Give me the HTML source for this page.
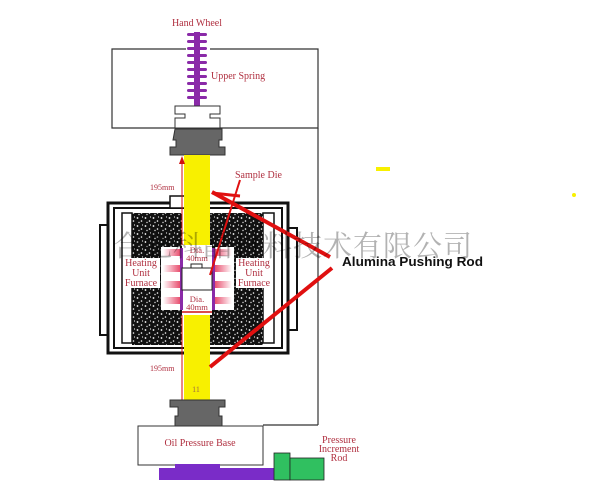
<!DOCTYPE html>
<html><head><meta charset="utf-8"><style>body{margin:0;background:#fff}svg{display:block}</style></head><body>
<svg width="600" height="500" viewBox="0 0 600 500" xmlns="http://www.w3.org/2000/svg" font-family="Liberation Serif, serif">
<defs>
<pattern id="sp" width="8" height="8" patternUnits="userSpaceOnUse">
<rect width="8" height="8" fill="#111"/>
<circle cx="1.5" cy="2" r="0.9" fill="#fff"/><circle cx="5.5" cy="5" r="0.8" fill="#fff"/><circle cx="3" cy="6.5" r="0.7" fill="#ddd"/><circle cx="6.5" cy="1" r="0.6" fill="#eee"/>
</pattern>
<linearGradient id="hl" x1="0" x2="1"><stop offset="0" stop-color="#fff"/><stop offset="1" stop-color="#e85070"/></linearGradient>
<linearGradient id="hr" x1="1" x2="0"><stop offset="0" stop-color="#fff"/><stop offset="1" stop-color="#e85070"/></linearGradient>
</defs>
<path d="M186 49 H112 V128 H318 V49 H210" fill="none" stroke="#333" stroke-width="1.2"/>
<line x1="318" y1="128" x2="318" y2="425" stroke="#333" stroke-width="1.2"/>
<line x1="318" y1="425" x2="263" y2="425" stroke="#333" stroke-width="1.2"/>
<text x="197" y="26" font-size="10" fill="#b03040" text-anchor="middle">Hand Wheel</text>
<text x="211" y="79" font-size="10" fill="#b03040">Upper Spring</text>
<rect x="194" y="32" width="6" height="74" fill="#8a2aa8"/>
<g fill="#8a2aa8">
<rect x="187" y="33" width="20" height="3" rx="1.5"/><rect x="187" y="40" width="20" height="3" rx="1.5"/><rect x="187" y="47" width="20" height="3" rx="1.5"/><rect x="187" y="54" width="20" height="3" rx="1.5"/><rect x="187" y="61" width="20" height="3" rx="1.5"/><rect x="187" y="68" width="20" height="3" rx="1.5"/><rect x="187" y="75" width="20" height="3" rx="1.5"/><rect x="187" y="82" width="20" height="3" rx="1.5"/><rect x="187" y="89" width="20" height="3" rx="1.5"/><rect x="187" y="96" width="20" height="3" rx="1.5"/>
</g>
<path d="M175 106 H220 V114 H210 V118 H220 V128 H175 V118 H185 V114 H175 Z" fill="#fff" stroke="#333" stroke-width="1"/>
<path d="M175 129 H222 V140 H219 V147 H225 V155 H170 V147 H176 V140 H173 Z" fill="#666" stroke="#333" stroke-width="1"/>
<rect x="100" y="225" width="9" height="110" fill="#fff" stroke="#111" stroke-width="2"/>
<rect x="287" y="228" width="10" height="102" fill="#fff" stroke="#111" stroke-width="2"/>
<rect x="108" y="203" width="180" height="150" fill="#fff" stroke="#111" stroke-width="3"/>
<rect x="114" y="208" width="168" height="140" fill="none" stroke="#111" stroke-width="2"/>
<rect x="122" y="213" width="10" height="130" fill="#fff" stroke="#111" stroke-width="1.5"/>
<rect x="263" y="213" width="11" height="130" fill="#fff" stroke="#111" stroke-width="1.5"/>
<rect x="132" y="213" width="50" height="132" fill="url(#sp)"/>
<rect x="210" y="213" width="53" height="132" fill="url(#sp)"/>
<rect x="170" y="196" width="15" height="12" fill="#fff" stroke="#111" stroke-width="1.5"/>
<rect x="161" y="247" width="19" height="63" fill="#fff"/>
<rect x="215" y="247" width="19" height="63" fill="#fff"/>
<g>
<rect x="163" y="249" width="17" height="7" fill="url(#hl)"/><rect x="163" y="265" width="17" height="7" fill="url(#hl)"/><rect x="163" y="281" width="17" height="7" fill="url(#hl)"/><rect x="163" y="297" width="17" height="7" fill="url(#hl)"/>
<rect x="215" y="249" width="17" height="7" fill="url(#hr)"/><rect x="215" y="265" width="17" height="7" fill="url(#hr)"/><rect x="215" y="281" width="17" height="7" fill="url(#hr)"/><rect x="215" y="297" width="17" height="7" fill="url(#hr)"/>
</g>
<rect x="180" y="248" width="3" height="62" fill="#8a2aa8"/>
<rect x="212" y="248" width="3" height="62" fill="#8a2aa8"/>
<rect x="183" y="245" width="29" height="70" fill="#fff"/>
<g font-size="10" fill="#b03040" text-anchor="middle">
<rect x="123" y="258" width="37" height="30" fill="#fff"/>
<text x="141" y="266">Heating</text><text x="141" y="276">Unit</text><text x="141" y="286">Furnace</text>
<rect x="236" y="258" width="37" height="30" fill="#fff"/>
<text x="254" y="266">Heating</text><text x="254" y="276">Unit</text><text x="254" y="286">Furnace</text>
<text x="197" y="253" font-size="8.5">Dia.</text><text x="197" y="261" font-size="8.5">40mm</text>
<text x="197" y="302" font-size="8.5">Dia.</text><text x="197" y="310" font-size="8.5">40mm</text>
</g>
<rect x="182" y="268" width="30" height="22" fill="#fff" stroke="#222" stroke-width="1"/>
<rect x="191" y="264" width="11" height="4" fill="#fff" stroke="#222" stroke-width="1"/>
<line x1="182" y1="312" x2="212" y2="312" stroke="#d01010" stroke-width="1.5"/>
<rect x="184" y="155" width="26" height="90" fill="#f8f000"/>
<rect x="184" y="315" width="26" height="86" fill="#f8f000"/>
<line x1="182" y1="158" x2="182" y2="245" stroke="#d01010" stroke-width="1"/>
<path d="M179 164 L182 156 L185 164 Z" fill="#d01010"/>
<line x1="182" y1="315" x2="182" y2="400" stroke="#d01010" stroke-width="1"/>
<text x="196" y="392" font-size="8" fill="#a07040" text-anchor="middle">11</text>
<text x="150" y="190" font-size="8" fill="#b03040">195mm</text>
<text x="150" y="371" font-size="8" fill="#b03040">195mm</text>
<text x="235" y="178" font-size="10" fill="#b03040">Sample Die</text>
<path d="M173 400 H225 V407 H219 V416 H222 V426 H175 V416 H178 V407 H170 V400 Z" fill="#666" stroke="#333" stroke-width="1"/>
<rect x="138" y="426" width="125" height="39" fill="#fff" stroke="#333" stroke-width="1"/>
<text x="200" y="446" font-size="10" fill="#b03040" text-anchor="middle">Oil Pressure Base</text>
<path d="M159 468 H175 V464 H220 V468 H275 V480 H159 Z" fill="#7a2cc8"/>
<rect x="274" y="453" width="16" height="27" fill="#30c060" stroke="#222" stroke-width="0.8"/>
<rect x="290" y="458" width="34" height="22" fill="#30c060" stroke="#222" stroke-width="0.8"/>
<g font-size="10" fill="#b03040" text-anchor="middle"><text x="339" y="443">Pressure</text><text x="339" y="452">Increment</text><text x="339" y="461">Rod</text></g>
<line x1="240" y1="180" x2="210" y2="275" stroke="#e01010" stroke-width="2"/>
<line x1="212" y1="192" x2="330" y2="257" stroke="#e01010" stroke-width="4"/>
<line x1="212" y1="193" x2="240" y2="196" stroke="#e01010" stroke-width="3"/>
<line x1="332" y1="268" x2="210" y2="367" stroke="#e01010" stroke-width="4"/>
<text x="113" y="256" font-size="29" fill="#000" fill-opacity="0.3" font-family="Noto Serif CJK SC, serif" letter-spacing="1">合肥科晶材料技术有限公司</text>
<text x="342" y="266" font-size="13" font-weight="bold" fill="#111" font-family="Liberation Sans, sans-serif" textLength="141" lengthAdjust="spacingAndGlyphs">Alumina Pushing Rod</text>
<rect x="376" y="167" width="14" height="4" fill="#f8f000"/>
<circle cx="574" cy="195" r="2" fill="#f8f000"/>
</svg>
</body></html>
